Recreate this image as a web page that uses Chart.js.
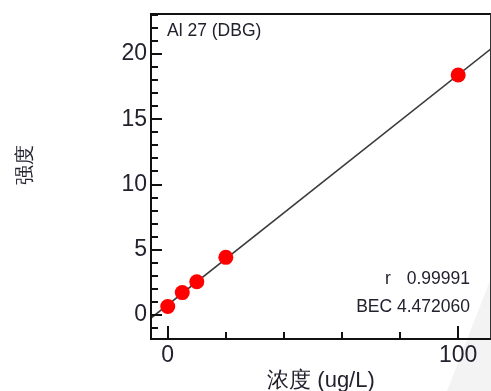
<!DOCTYPE html>
<html>
<head>
<meta charset="utf-8">
<script src="https://cdn.jsdelivr.net/npm/chart.js@4"></script>
<style>
  html, body { margin: 0; padding: 0; background: #ffffff; }
  #wrap { position: relative; width: 491px; height: 391px; }
</style>
</head>
<body>
<div id="wrap"><canvas id="cal" width="491" height="391"></canvas></div>
<script>
// Calibration standards: concentration (ug/L) and measured intensity
const concentrations = [0, 5, 10, 20, 100];
const intensities = [0.65, 1.72, 2.55, 4.42, 18.4];

// Calibration fit results
const element = 'Al 27 (DBG)';
const rValue = '0.99991';
const bec = 4.472060;
const slope = 0.1762;
const intercept = bec * slope;

// Axis ticks
const xTickValues = [0, 20, 40, 60, 80, 100];
const xLabelled = [0, 100];
const yTickValues = [0, 5, 10, 15, 20];
const yMinorValues = [-1, 0, 1, 2, 3, 4, 5, 6, 7, 8, 9, 10, 11, 12, 13, 14, 15, 16, 17, 18, 19, 20, 21, 22, 23];

const X_MIN = -5.77, X_MAX = 111.3;
const Y_MIN = -1.76, Y_MAX = 23.07;

const fitLine = [X_MIN, X_MAX].map(x => ({ x: x, y: intercept + slope * x }));
const points = concentrations.map((c, i) => ({ x: c, y: intensities[i] }));

const FONT = "'Liberation Sans', Arial, sans-serif";
const TEXT = '#22222e';

// faint page shading in the lower right corner
const backdrop = {
  id: 'backdrop',
  beforeDraw(chart) {
    const ctx = chart.ctx;
    ctx.save();
    ctx.fillStyle = '#f3f3f3';
    ctx.beginPath();
    ctx.moveTo(491, 278);
    ctx.lineTo(491, 391);
    ctx.lineTo(447, 391);
    ctx.closePath();
    ctx.fill();
    ctx.restore();
  }
};

// frame, inward tick marks and annotation texts
const frameAndNotes = {
  id: 'frameAndNotes',
  afterDraw(chart) {
    const ctx = chart.ctx;
    const a = chart.chartArea;
    const xs = chart.scales.x, ys = chart.scales.y;
    ctx.save();
    // frame
    ctx.strokeStyle = '#111111';
    ctx.lineWidth = 2;
    ctx.beginPath();
    ctx.moveTo(a.left, a.top); ctx.lineTo(a.right, a.top);
    ctx.stroke();
    ctx.lineWidth = 1;
    ctx.strokeStyle = '#333333';
    ctx.beginPath();
    ctx.moveTo(a.right - 0.5, a.top); ctx.lineTo(a.right - 0.5, a.bottom);
    ctx.stroke();
    ctx.lineWidth = 2;
    ctx.strokeStyle = '#111111';
    ctx.beginPath();
    ctx.moveTo(a.left, a.top - 1); ctx.lineTo(a.left, a.bottom + 1);
    ctx.lineTo(a.right, a.bottom + 1);
    ctx.stroke();

    // y ticks, pointing into the plot
    ctx.lineWidth = 2;
    yMinorValues.forEach(v => {
      const py = Math.round(ys.getPixelForValue(v));
      const len = (v % 5 === 0) ? 11 : 7;
      ctx.beginPath();
      ctx.moveTo(a.left, py); ctx.lineTo(a.left + len, py);
      ctx.stroke();
    });
    // x ticks, pointing into the plot
    xTickValues.forEach(v => {
      const px = Math.round(xs.getPixelForValue(v));
      const len = xLabelled.includes(v) ? 13 : 7;
      ctx.beginPath();
      ctx.moveTo(px, a.bottom + 1); ctx.lineTo(px, a.bottom + 1 - len);
      ctx.stroke();
    });

    // annotations
    ctx.fillStyle = TEXT;
    ctx.font = '17.5px ' + FONT;
    ctx.textBaseline = 'alphabetic';
    ctx.textAlign = 'left';
    ctx.fillText(element, a.left + 16, 35.5);
    ctx.fillText('r', 385, 284);
    ctx.textAlign = 'right';
    ctx.fillText(rValue, 470, 284);
    ctx.fillText('BEC ' + bec.toFixed(6), 470, 311.5);

    // y axis title, rotated
    ctx.font = '20px ' + FONT;
    ctx.translate(25, 165);
    ctx.rotate(-Math.PI / 2);
    ctx.textAlign = 'center';
    ctx.textBaseline = 'middle';
    ctx.fillText('强度', 0, 0);
    ctx.restore();
  }
};

// keep tick labels from shrinking the plot area
function noLabelPadding(scale) {
  scale.paddingLeft = 0;
  scale.paddingRight = 0;
  scale.paddingTop = 0;
  scale.paddingBottom = 0;
}

new Chart(document.getElementById('cal'), {
  data: {
    datasets: [
      {
        type: 'line',
        data: fitLine,
        borderColor: '#3a3a3a',
        borderWidth: 1.6,
        pointRadius: 0,
        fill: false,
        order: 2
      },
      {
        type: 'scatter',
        data: points,
        backgroundColor: '#ff0000',
        borderColor: '#ff0000',
        borderWidth: 0,
        pointRadius: 7.5,
        order: 1
      }
    ]
  },
  options: {
    responsive: false,
    animation: false,
    layout: { autoPadding: false, padding: { top: 14, right: 0, left: 0, bottom: 0 } },
    plugins: { legend: { display: false }, tooltip: { enabled: false } },
    scales: {
      x: {
        type: 'linear',
        min: X_MIN,
        max: X_MAX,
        afterBuildTicks(scale) { scale.ticks = xTickValues.map(v => ({ value: v })); },
        afterFit(scale) { scale.height = 53; noLabelPadding(scale); },
        grid: { display: false, drawTicks: false },
        border: { display: false },
        ticks: {
          padding: 4,
          autoSkip: false,
          maxRotation: 0,
          color: TEXT,
          font: { family: FONT, size: 23 },
          callback: v => xLabelled.includes(v) ? String(v) : ''
        },
        title: {
          display: true,
          text: '浓度 (ug/L)',
          color: TEXT,
          font: { family: FONT, size: 22 },
          padding: { top: 0, bottom: -3 }
        }
      },
      y: {
        type: 'linear',
        min: Y_MIN,
        max: Y_MAX,
        afterBuildTicks(scale) { scale.ticks = yTickValues.map(v => ({ value: v })); },
        afterFit(scale) { scale.width = 151; noLabelPadding(scale); },
        grid: { display: false, drawTicks: false },
        border: { display: false },
        ticks: {
          padding: 4,
          autoSkip: false,
          color: TEXT,
          font: { family: FONT, size: 23 }
        }
      }
    }
  },
  plugins: [backdrop, frameAndNotes]
});
</script>
</body>
</html>
